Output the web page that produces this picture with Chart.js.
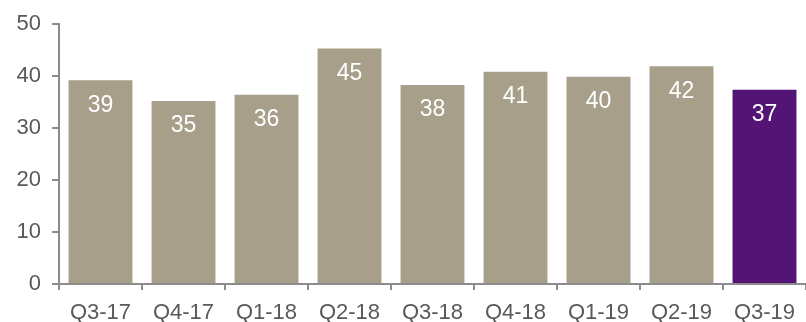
<!DOCTYPE html>
<html>
<head>
<meta charset="utf-8">
<script src="https://cdn.jsdelivr.net/npm/chart.js@4"></script>
<style>
  html, body { margin: 0; padding: 0; background: #fff; }
  #wrap { width: 806px; height: 322px; }
</style>
</head>
<body>
<div id="wrap"><canvas id="chart"></canvas></div>
<script>
// chart data
const quarters = ['Q3-17', 'Q4-17', 'Q1-18', 'Q2-18', 'Q3-18', 'Q4-18', 'Q1-19', 'Q2-19', 'Q3-19'];
const values = [39.2, 35.2, 36.4, 45.3, 38.3, 40.85, 39.9, 41.9, 37.4];
const valueLabels = ['39', '35', '36', '45', '38', '41', '40', '42', '37'];
const yTicks = [0, 10, 20, 30, 40, 50];

const tan = '#A89F8A';
const purple = '#531476';
const barColors = quarters.map((q, i) => (i === quarters.length - 1 ? purple : tan));
const fontFamily = '"Liberation Sans", Arial, sans-serif';

// white value labels inside bars
const insideLabels = {
  id: 'insideLabels',
  afterDatasetsDraw(chart) {
    const ctx = chart.ctx;
    const meta = chart.getDatasetMeta(0);
    ctx.save();
    ctx.fillStyle = '#ffffff';
    ctx.font = '23px ' + fontFamily;
    ctx.textAlign = 'center';
    ctx.textBaseline = 'middle';
    meta.data.forEach((bar, i) => {
      ctx.fillText(valueLabels[i], bar.x, bar.y + 25);
    });
    ctx.restore();
  }
};

new Chart(document.getElementById('chart'), {
  type: 'bar',
  data: {
    labels: quarters,
    datasets: [{
      data: values,
      backgroundColor: barColors,
      borderWidth: 0,
      categoryPercentage: 0.77,
      barPercentage: 1.0
    }]
  },
  options: {
    responsive: true,
    maintainAspectRatio: false,
    animation: false,
    layout: { padding: { top: 20, right: 0, left: 0, bottom: 0 } },
    plugins: {
      legend: { display: false },
      tooltip: { enabled: false }
    },
    scales: {
      x: {
        grid: {
          offset: true,
          drawOnChartArea: false,
          drawTicks: true,
          tickLength: 6,
          color: '#8c8c8c',
          lineWidth: 2
        },
        border: { color: '#8c8c8c', width: 2 },
        ticks: {
          color: '#595959',
          font: { family: fontFamily, size: 22 },
          padding: 10,
          maxRotation: 0,
          autoSkip: false
        },
        afterFit(scale) { scale.height = 38; }
      },
      y: {
        min: 0,
        max: 50,
        afterBuildTicks(scale) { scale.ticks = yTicks.map(v => ({ value: v })); },
        grid: {
          drawOnChartArea: false,
          drawTicks: true,
          tickLength: 7,
          color: '#8c8c8c',
          lineWidth: 2
        },
        border: { color: '#8c8c8c', width: 2 },
        ticks: {
          color: '#595959',
          font: { family: fontFamily, size: 22 },
          padding: 11
        },
        afterFit(scale) { scale.width = 59; }
      }
    }
  },
  plugins: [insideLabels]
});
</script>
</body>
</html>
